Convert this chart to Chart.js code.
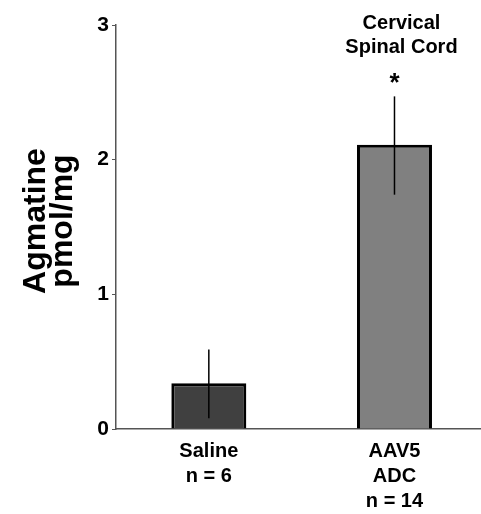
<!DOCTYPE html>
<html>
<head>
<meta charset="utf-8">
<script src="https://cdn.jsdelivr.net/npm/chart.js@4"></script>
<style>
  html, body { margin: 0; padding: 0; background: #fff; }
  #wrap { width: 481px; height: 514px; }
</style>
</head>
<body>
<div id="wrap"><canvas id="agmChart"></canvas></div>
<script>
// --- data ---
const groups = [['Saline', 'n = 6'], ['AAV5', 'ADC', 'n = 14']];
const means = [0.34, 2.11];
const errLow = [0.08, 1.74];
const errHigh = [0.59, 2.47];
const barColors = ['#404040', '#808080'];
const yTicks = [0, 1, 2, 3];
const yTitle = ['Agmatine', 'pmol/mg'];
const titleLines = ['Cervical', 'Spinal Cord'];
const sigMarks = ['', '*'];

const FONT = '"Liberation Sans", Arial, sans-serif';

// error bars, significance star, panel title and the two-line y title
const extras = {
    id: 'extras',
    afterDatasetsDraw(chart) {
        const { ctx, scales: { x, y } } = chart;
        ctx.save();
        ctx.strokeStyle = '#000';
        ctx.lineWidth = 1.5;
        means.forEach((m, i) => {
            const cx = x.getPixelForValue(i);
            ctx.beginPath();
            ctx.moveTo(cx, y.getPixelForValue(errLow[i]));
            ctx.lineTo(cx, y.getPixelForValue(errHigh[i]));
            ctx.stroke();
        });
        ctx.fillStyle = '#000';
        ctx.textAlign = 'center';
        ctx.textBaseline = 'alphabetic';
        ctx.font = 'bold 26px ' + FONT;
        sigMarks.forEach((s, i) => {
            if (!s) return;
            ctx.fillText(s, x.getPixelForValue(i), y.getPixelForValue(errHigh[i]) - 5);
        });
        const tx = x.getPixelForValue(1) + 7;
        ctx.font = 'bold 20px ' + FONT;
        titleLines.forEach((t, k) => ctx.fillText(t, tx, 29 + k * 24));

        // rotated axis title
        ctx.translate(0, 221);
        ctx.rotate(-Math.PI / 2);
        ctx.font = 'bold 32px ' + FONT;
        yTitle.forEach((t, k) => ctx.fillText(t, 0, 45 + k * 27));
        ctx.restore();
    }
};

new Chart(document.getElementById('agmChart'), {
    type: 'bar',
    data: {
        datasets: [{
            data: means.map((m, i) => ({ x: i, y: m })),
            backgroundColor: barColors,
            borderColor: '#000',
            borderWidth: 3,
            borderSkipped: 'bottom',
            barPercentage: 0.404,
            categoryPercentage: 1
        }]
    },
    options: {
        responsive: true,
        maintainAspectRatio: false,
        animation: false,
        layout: { padding: { top: 25, right: 0, left: 0, bottom: 0 } },
        plugins: { legend: { display: false }, tooltip: { enabled: false }, title: { display: false } },
        scales: {
            x: {
                type: 'linear',
                min: -0.5, max: 1.466,
                offset: false,
                afterFit(s) { s.height = 85; },
                afterBuildTicks(s) { s.ticks = groups.map((g, i) => ({ value: i })); },
                grid: { display: false, drawTicks: false },
                border: { color: '#555', width: 1.5 },
                ticks: {
                    color: '#000',
                    font: { family: FONT, size: 20, weight: 'bold', lineHeight: 1.25 },
                    padding: 10,
                    callback: v => groups[v]
                }
            },
            y: {
                min: 0, max: 3,
                afterFit(s) { s.width = 116; },
                afterBuildTicks(s) { s.ticks = yTicks.map(v => ({ value: v })); },
                grid: { drawOnChartArea: false, tickLength: 4, color: '#555' },
                border: { color: '#555', width: 1.5 },
                ticks: { color: '#000', font: { family: FONT, size: 21, weight: 'bold' }, padding: 3 }
            }
        }
    },
    plugins: [extras]
});
</script>
</body>
</html>
